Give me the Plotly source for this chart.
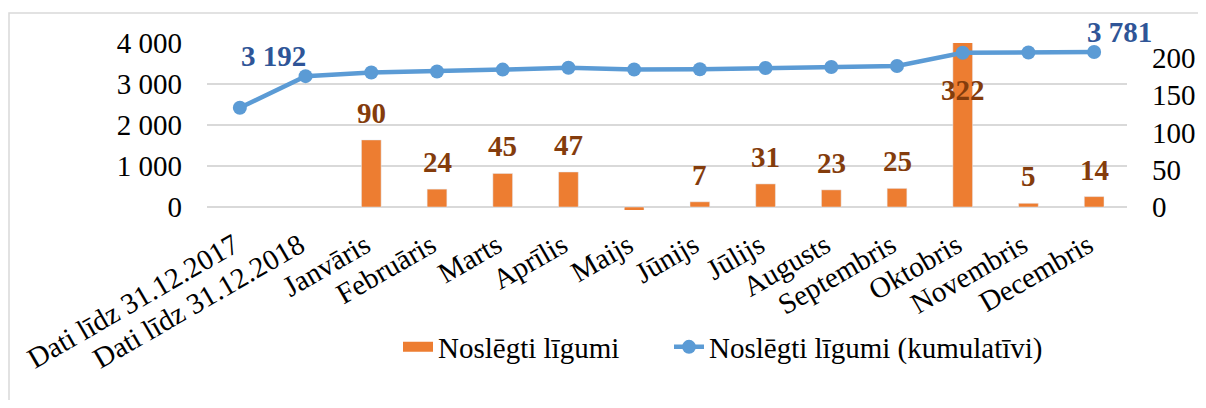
import plotly.graph_objects as go

categories = [
    "Dati līdz 31.12.2017", "Dati līdz 31.12.2018", "Janvāris", "Februāris",
    "Marts", "Aprīlis", "Maijs", "Jūnijs", "Jūlijs", "Augusts",
    "Septembris", "Oktobris", "Novembris", "Decembris",
]
monthly = [None, None, 90, 24, 45, 47, -44, 7, 31, 23, 25, 322, 5, 14]
cumulative = [2420, 3192, 3282, 3306, 3351, 3398, 3354, 3361, 3392, 3415,
              3440, 3762, 3767, 3781]
cum_label_idx = [1, 13]
cum_label_shift = [-32, 25]

left_ticks = [0, 1000, 2000, 3000, 4000]
left_ticktext = ["0", "1 000", "2 000", "3 000", "4 000"]
right_ticks = [0, 50, 100, 150, 200]

BAR = "#ED7D31"
LINE = "#5B9BD5"
BAR_TXT = "#843C0C"
LINE_TXT = "#2F5597"
GRID = "#D9D9D9"
FONT = "Liberation Serif"
FS = 29

R_MAX = 220
R_MIN = -4
L_MAX = 4000
L_MIN = R_MIN * L_MAX / R_MAX

# the page body keeps its default 8px margin, so the figure is 16px smaller
W, H = 1190, 392
PL, PR, PT, PB = 199, 1119, 35, 202  # plot area in figure pixels
PW, PH = PR - PL, PB - PT

fig = go.Figure()

fig.add_trace(go.Bar(
    x=categories, y=monthly, name="Noslēgti līgumi",
    marker=dict(color=BAR), width=0.3, yaxis="y", showlegend=False,
))
# legend entry drawn as a wide orange swatch, like the original
fig.add_trace(go.Scatter(
    x=[None], y=[None], name="Noslēgti līgumi", mode="lines",
    line=dict(color=BAR, width=14), yaxis="y", hoverinfo="skip",
    legend="legend",
))
fig.add_trace(go.Scatter(
    x=categories, y=cumulative, name="Noslēgti līgumi (kumulatīvi)",
    mode="lines+markers", yaxis="y2", legend="legend2",
    line=dict(color=LINE, width=4.5),
    marker=dict(color=LINE, size=14),
))

annotations = []
for cat, v in zip(categories, monthly):
    if v is None or v <= 0:
        continue
    clipped = v > R_MAX
    annotations.append(dict(
        x=cat, y=min(v, R_MAX), xref="x", yref="y",
        text=f"<b>{v}</b>", showarrow=False,
        yshift=-47 if clipped else 27,
        font=dict(family=FONT, size=FS, color=BAR_TXT),
    ))
for i, dx in zip(cum_label_idx, cum_label_shift):
    annotations.append(dict(
        x=categories[i], y=cumulative[i], xref="x", yref="y2",
        text="<b>" + f"{cumulative[i]:,}".replace(",", " ") + "</b>",
        showarrow=False, yshift=20, xshift=dx,
        font=dict(family=FONT, size=FS, color=LINE_TXT),
    ))

legend_style = dict(
    orientation="h", xanchor="left", y=(PB - 339) / PH, yanchor="middle",
    font=dict(family=FONT, size=FS), bgcolor="rgba(0,0,0,0)",
)

fig.update_layout(
    width=W, height=H,
    margin=dict(l=PL, r=W - PR, t=PT, b=H - PB, autoexpand=False),
    paper_bgcolor="white", plot_bgcolor="white",
    font=dict(family=FONT, size=FS, color="black"),
    showlegend=True,
    legend=dict(x=(390 - PL) / PW, **legend_style),
    legend2=dict(x=(661 - PL) / PW, **legend_style),
    xaxis=dict(
        range=[-0.5, len(categories) - 0.5],
        tickangle=-30, showgrid=False, showline=False, zeroline=False,
        ticks="", tickfont=dict(family=FONT, size=FS), automargin=False,
        ticklabelstandoff=12, ticklabelshift=-6,
    ),
    yaxis=dict(
        side="right", range=[R_MIN, R_MAX], tickvals=right_ticks,
        showgrid=False, zeroline=False, showline=False, ticks="",
        ticklabelstandoff=24, tickfont=dict(family=FONT, size=FS),
        automargin=False,
    ),
    yaxis2=dict(
        side="left", overlaying="y", range=[L_MIN, L_MAX],
        tickvals=left_ticks, ticktext=left_ticktext,
        showgrid=True, gridcolor=GRID, gridwidth=1.5,
        zeroline=False, showline=False, ticks="",
        ticklabelstandoff=24, tickfont=dict(family=FONT, size=FS),
        automargin=False,
    ),
    annotations=annotations,
)

fig.add_shape(
    type="rect", xref="paper", yref="paper",
    x0=(1 - PL) / PW, x1=(1192 - PL) / PW,
    y0=(PB - 420) / PH, y1=(PB - 5) / PH,
    line=dict(color=GRID, width=1.5), layer="below",
)

fig.write_html("out.html")
